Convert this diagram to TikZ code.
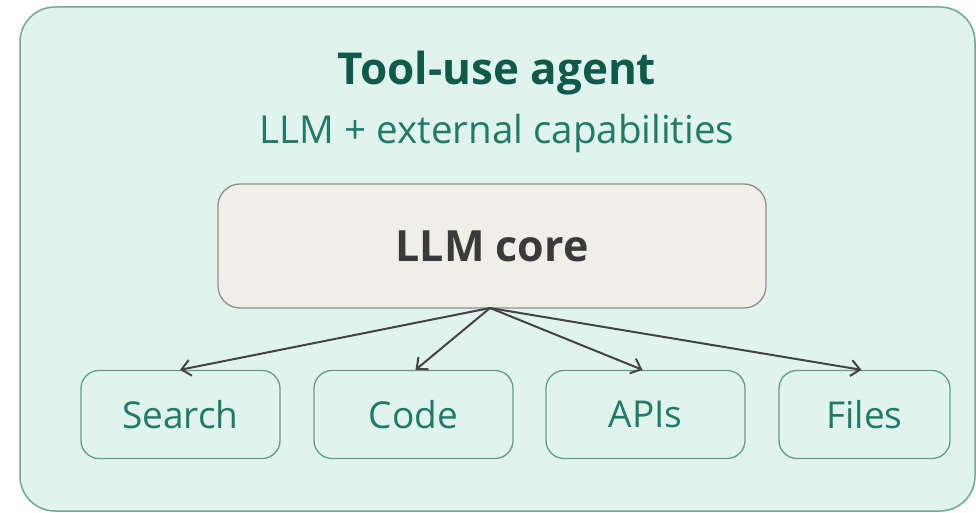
\documentclass[tikz,border=0pt]{standalone}
\usepackage{fontspec}
\setmainfont{Open Sans}
\usetikzlibrary{arrows.meta}
\definecolor{outerfill}{HTML}{E0F3EC}
\definecolor{outerdraw}{HTML}{6FA898}
\definecolor{titlecol}{HTML}{0F5A4A}
\definecolor{subcol}{HTML}{1F7A68}
\definecolor{corefill}{HTML}{F1EEE8}
\definecolor{coredraw}{HTML}{8F8F8F}
\definecolor{coretext}{HTML}{3A3A3A}
\definecolor{toolfill}{HTML}{E0F3EC}
\definecolor{tooldraw}{HTML}{5E9E8C}
\definecolor{arrowcol}{HTML}{444444}
\tikzset{
  toolbox/.style={draw=tooldraw, line width=1.3pt, fill=toolfill, rounded corners=18pt, minimum height=88pt, text=subcol, font=\fontsize{37}{40}\selectfont, inner sep=0pt},
  link/.style={draw=arrowcol, line width=2pt, -{Straight Barb[length=9pt,width=16pt,line width=2pt]}}
}
\begin{document}
\begin{tikzpicture}[x=1pt,y=-1pt]
\useasboundingbox (0,0) rectangle (976,513);
\draw[draw=outerdraw, fill=outerfill, line width=1.5pt, rounded corners=35pt] (20,7) rectangle (975,511);
\node[text=titlecol, font=\bfseries\fontsize{44}{48}\selectfont] (title) at (497,73) {Tool-use agent};
\node[text=subcol, font=\fontsize{38.5}{42}\selectfont] (sub) at (497,133) {LLM + external capabilities};
\node[draw=coredraw, fill=corefill, line width=1.3pt, rounded corners=22pt, minimum width=548pt, minimum height=124pt, text=coretext, font=\bfseries\fontsize{43}{48}\selectfont] (core) at (492,246) {LLM core};
\node[toolbox, minimum width=199pt] (search) at (180.5,414.5) {Search};
\node[toolbox, minimum width=199pt] (code) at (413.5,414.5) {Code};
\node[toolbox, minimum width=199pt] (apis) at (645.5,414.5) {APIs};
\node[toolbox, minimum width=171pt] (files) at (864.5,414.5) {Files};
\coordinate (src) at (490,308);
\draw[link] (src) -- (search.north -| 180,0);
\draw[link] (src) -- ([xshift=2pt]code.north);
\draw[link] (src) -- ([xshift=-3pt]apis.north);
\draw[link] (src) -- ([xshift=-3pt]files.north);
\end{tikzpicture}
\end{document}
